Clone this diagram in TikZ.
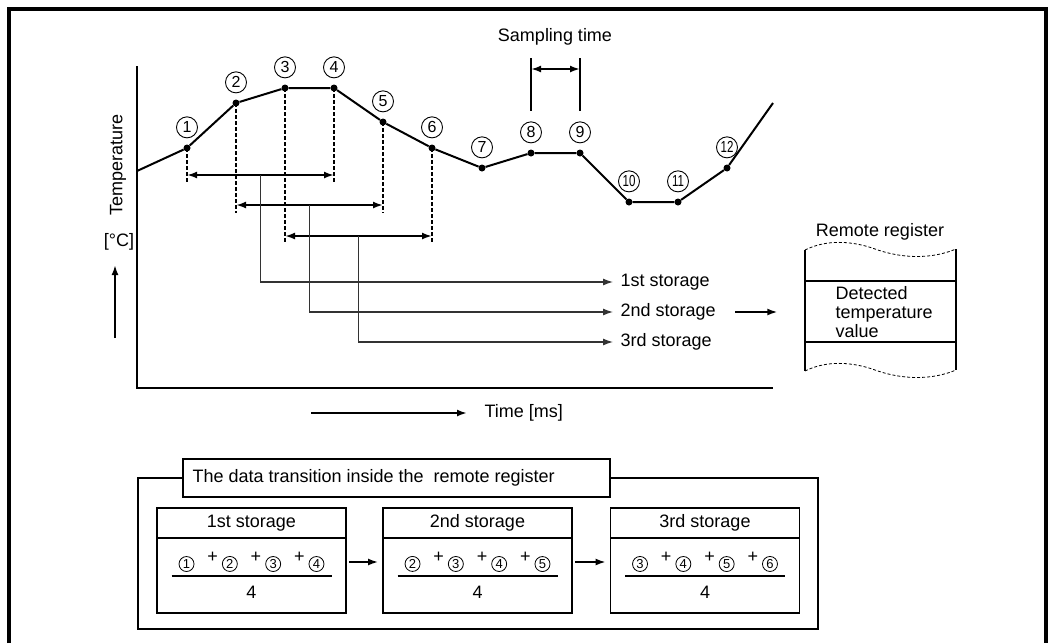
\documentclass[tikz,border=0pt]{standalone}
\usepackage{fontspec}
\setmainfont{Liberation Sans}
\usepackage{tikz}
\usetikzlibrary{arrows.meta,positioning,calc}

\newcommand{\cc}[1]{\tikz[baseline=(cn.base)]\node[circle,draw,line width=0.8pt,inner sep=0pt,minimum size=15pt,font=\fontsize{13}{13}\selectfont] (cn) {#1};}
\newcommand{\pl}{\hspace{13pt}\raisebox{6pt}{+}\hspace{4pt}}

\begin{document}
\begin{tikzpicture}[x=1pt, y=-1pt, font=\fontsize{18}{19}\selectfont,
   >={Latex[length=10pt,width=7pt]},
   dot/.style={circle,fill=black,inner sep=0pt,minimum size=7pt},
   cnum/.style={circle,draw,line width=0.9pt,inner sep=0pt,minimum size=21pt,font=\fontsize{16}{16}\selectfont},
   dashline/.style={line width=1.5pt,dash pattern=on 4pt off 2pt},
   span/.style={<->,line width=2pt},
   feed/.style={->,line width=1.2pt,draw=black!80},
   hdr/.style={draw,line width=1.2pt,outer sep=0pt,minimum width=189pt,minimum height=30pt,inner sep=0pt},
   body/.style={draw,line width=1.2pt,outer sep=0pt,minimum width=189pt,minimum height=75pt,inner sep=0pt}]
   \useasboundingbox (0,0) rectangle (1048,643);
   % frame and axes
   \draw[line width=4pt] (9,643) -- (9,9) -- (1046,9) -- (1046,643);
   \draw[line width=2.5pt] (137,66) -- (137,388) -- (773,388);

   % temperature curve
   \coordinate (p0) at (137,171);
   \node[dot] (p1) at (187,148) {};
   \node[dot] (p2) at (236,103) {};
   \node[dot] (p3) at (285,88) {};
   \node[dot] (p4) at (334,88) {};
   \node[dot] (p5) at (383,122) {};
   \node[dot] (p6) at (432,148) {};
   \node[dot] (p7) at (482,168) {};
   \node[dot] (p8) at (531,153) {};
   \node[dot] (p9) at (580,153) {};
   \node[dot] (p10) at (629,202) {};
   \node[dot] (p11) at (678,202) {};
   \node[dot] (p12) at (727,168) {};
   \coordinate (p13) at (773,103);
   \draw[line width=2pt] (p0) -- (p1) -- (p2) -- (p3) -- (p4) -- (p5) -- (p6) -- (p7)
      -- (p8) -- (p9) -- (p10) -- (p11) -- (p12) -- (p13);
   \foreach \i in {1,...,9}
      \node[cnum,above=6pt of p\i] {\i};
   \foreach \i in {10,11,12}
      \node[cnum,above=6pt of p\i] {\scalebox{0.72}[1]{\i}};

   % averaging spans
   \foreach \i/\e in {1/182,2/213,3/243,4/182,5/213,6/243}
      \draw[dashline] (p\i.center) -- (p\i |- 0,\e);
   \draw[span] (p1 |- 0,175) -- coordinate[midway] (m1) (p4 |- 0,175);
   \draw[span] (p2 |- 0,205) -- coordinate[midway] (m2) (p5 |- 0,205);
   \draw[span] (p3 |- 0,236) -- coordinate[midway] (m3) (p6 |- 0,236);

   \node[anchor=west] (s1) at (617,282) {1st storage};
   \node[anchor=west] (s2) at (617,312) {2nd storage};
   \node[anchor=west] (s3) at (617,342) {3rd storage};
   \draw[feed,shorten >=4pt] (m1) |- (s1);
   \draw[feed,shorten >=4pt] (m2) |- (s2);
   \draw[feed,shorten >=4pt] (m3) |- (s3);

   % sampling time
   \node (st) at (555,37) {Sampling time};
   \draw[line width=2pt] (p8 |- 0,58) -- (p8 |- 0,111);
   \draw[line width=2pt] (p9 |- 0,58) -- (p9 |- 0,111);
   \draw[span] (p8 |- 0,69) -- (p9 |- 0,69);

   % axis labels
   \node[rotate=90] (temp) at (118,165) {Temperature};
   \node (degc) at (119,242) {[°C]};
   \coordinate (yb) at (115,338);
   \draw[->,line width=2pt] (yb) -- (yb |- 0,265);
   \node[anchor=west] (time) at (481,413) {Time [ms]};
   \coordinate (t0) at (311,413);
   \draw[->,line width=2pt,shorten >=14pt] (t0) -- (time);

   % remote register
   \node (rr) at (880,232) {Remote register};
   \node[draw,line width=1.5pt,minimum width=151pt,minimum height=61pt,inner sep=0pt] (cell) at (880.5,311.5) {};
   \node[anchor=west,align=left] (val) at (832,312) {Detected\\temperature\\value};
   \draw[line width=1.5pt] (805,250) -- (805,371);
   \draw[line width=1.5pt] (956,249) -- (956,370);
   \draw[densely dashed,line width=0.8pt] (805,250) .. controls (825,240) and (850,240) .. (875,249)
      .. controls (900,258) and (930,260) .. (956,249);
   \draw[densely dashed,line width=0.8pt] (805,371) .. controls (825,361) and (850,361) .. (875,370)
      .. controls (900,379) and (930,381) .. (956,370);
   \draw[->,line width=1.5pt,shorten <=16pt,shorten >=27pt] (s2.east) -- (cell.west |- s2.east);

   % data transition
   \draw[line width=1.5pt] (138,478) rectangle (818,629);
   \node[draw,fill=white,line width=1.5pt,minimum width=427pt,minimum height=38pt,inner sep=0pt] (ttl) at (396.5,478) {};
   \node[anchor=west] at (189,478) {The data transition inside the\ \ remote register};
   \foreach \i/\x/\t/\a/\b/\c/\d in {1/251.5/1st/1/2/3/4, 2/477.5/2nd/2/3/4/5, 3/705/3rd/3/4/5/6} {
      \node[hdr] (h\i) at (\x,523) {\t\ storage};
      \node[body,below=0pt of h\i] (b\i) {};
      \node (n\i) at (\x,562) {\cc{\a}\pl\cc{\b}\pl\cc{\c}\pl\cc{\d}};
      \draw[line width=2pt] (\x-80,576) -- (\x+80,576);
      \node (d\i) at (\x,592) {4};
   }
   \draw[->,line width=1.5pt,shorten <=3pt,shorten >=5pt] (b1.east |- n1) -- (b2.west |- n1);
   \draw[->,line width=1.5pt,shorten <=3pt,shorten >=5pt] (b2.east |- n2) -- (b3.west |- n2);
\end{tikzpicture}
\end{document}
